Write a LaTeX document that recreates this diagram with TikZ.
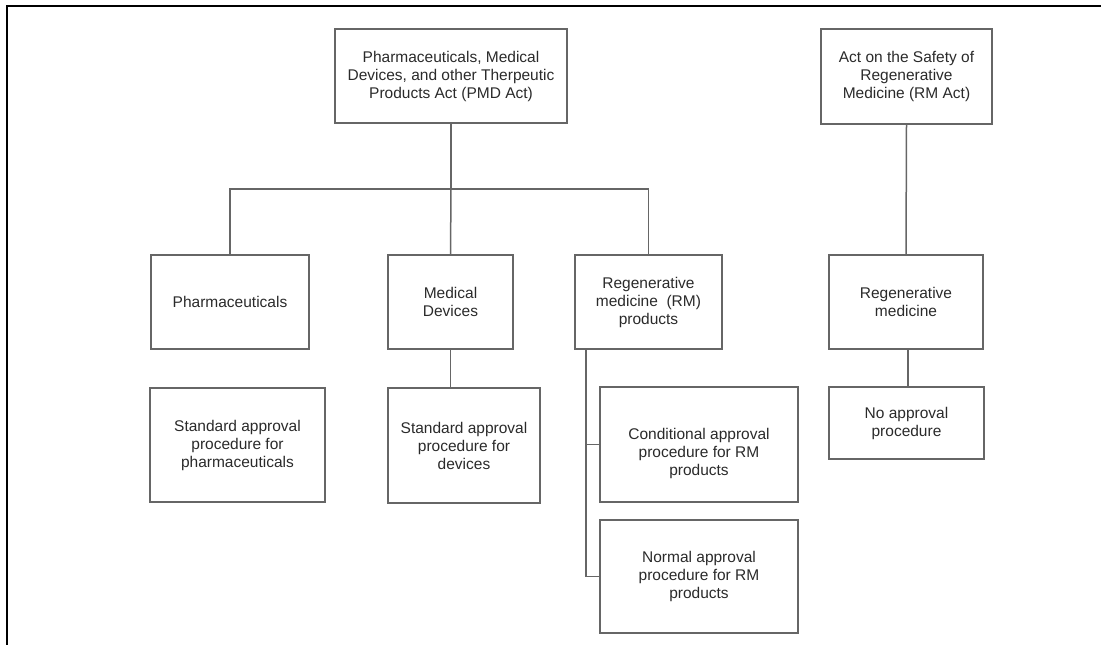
\documentclass[tikz,border=0pt]{standalone}
\usepackage{fontspec}
\setmainfont{Liberation Sans}
\usetikzlibrary{calc}
\definecolor{edge}{HTML}{666666}
\definecolor{ink}{HTML}{2A2A2A}
\tikzset{
  box/.style={draw=edge, line width=1.5pt, rectangle, inner sep=0pt},
  txt/.style={text=ink, align=center, font=\fontsize{15.5}{18}\selectfont},
  link/.style={draw=edge, line width=1.5pt},
}
% place a box by its pixel corners: \pbox{name}{x1}{y1}{x2}{y2}{text}
\newcommand{\pbox}[6]{%
  \node[box, txt, minimum width=#4-#2, minimum height=#5-#3]
    (#1) at ({(#2+#4)/2},{(#3+#5)/2}) {#6};}
\begin{document}
\begin{tikzpicture}[x=1pt,y=-1pt]
\useasboundingbox (0,0) rectangle (1106,645);
% frame
\draw[black, line width=1.3pt] (7,645) -- (7,6) -- (1101,6);

% top level acts
\pbox{pmd}{335}{29}{567}{123}{Pharmaceuticals, Medical\\Devices, and other Therpeutic\\Products Act (PMD Act)}
\pbox{rmact}{821}{29}{992}{124}{Act on the Safety of\\Regenerative\\Medicine (RM Act)}

% product categories
\pbox{pharma}{151}{255}{309}{349}{Pharmaceuticals}
\pbox{dev}{388}{255}{513}{349}{Medical\\Devices}
\pbox{rmp}{575}{255}{722}{349}{Regenerative\\medicine~~(RM)\\products}
\pbox{regmed}{829}{255}{983}{349}{Regenerative\\medicine}

% procedures
\pbox{stdph}{150}{388}{325}{502}{Standard approval\\procedure for\\pharmaceuticals}
\pbox{stddev}{388}{388}{540}{503}{Standard approval\\procedure for\\devices}
\pbox{cond}{600}{387}{798}{502}{}
\node[txt] at ($(cond.center)+(0,9)$) {Conditional approval\\procedure for RM\\products};
\pbox{norm}{600}{520}{798}{633}{Normal approval\\procedure for RM\\products}
\pbox{noappr}{829}{387}{984}{459}{No approval\\procedure}

% PMD Act tree
\coordinate (bus) at (451,189);
\draw[link] (pmd.south) -- (bus);
\draw[link] (pharma.north) |- (bus) -| (rmp.north);
\draw[link] (bus) -- (dev.north);
\draw[link] (dev.south) -- (dev.south |- stddev.north);

% RM product branches
\coordinate (rmtrunk) at (586,349);
\draw[link] (rmtrunk) |- (norm.west);
\draw[link] (rmtrunk |- cond.west) -- (cond.west);

% RM Act tree
\draw[link] (rmact.south) -- (regmed.north);
\coordinate (rmdrop) at ($(regmed.south)+(2,0)$);
\draw[link] (rmdrop) -- (rmdrop |- noappr.north);
\end{tikzpicture}
\end{document}
